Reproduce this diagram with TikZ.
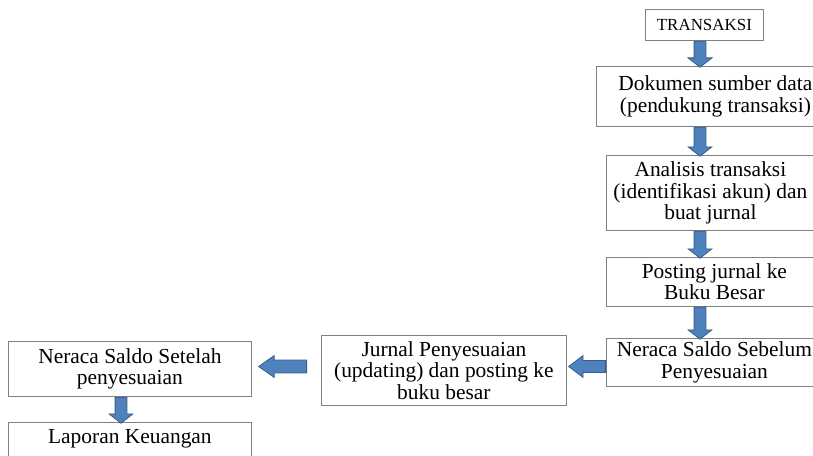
\documentclass[tikz,border=0pt]{standalone}
\usepackage{fontspec}
\setmainfont{Liberation Serif}
\usetikzlibrary{shapes.arrows}
\definecolor{arrowfill}{RGB}{79,129,189}
\definecolor{arrowline}{RGB}{56,93,138}

\begin{document}
\begin{tikzpicture}[x=1bp, y=-1bp,
  flow box/.style={rectangle, draw=black!50, line width=0.8bp, anchor=north west, align=center, inner sep=2bp, font=\fontsize{21.5}{21.5}\selectfont},
  block arrow/.style={single arrow, draw=arrowline, fill=arrowfill, line width=0.8bp, minimum width=0pt, anchor=tail},
  down arrow/.style={block arrow, shape border rotate=270, inner ysep=0pt, inner xsep=5.5bp, single arrow head extend=6bp, single arrow tip angle=104},
  left arrow/.style={block arrow, shape border rotate=180, inner xsep=0pt, inner ysep=5.5bp, single arrow head extend=5bp, single arrow tip angle=74}]
  \useasboundingbox (0,0) rectangle (813,456);

  \coordinate (colR) at (700,0);
  \coordinate (colL) at (121,0);
  \coordinate (rowH) at (0,366.5);

  % right column
  \node[flow box, minimum width=118bp, minimum height=31bp, font=\fontsize{17}{20}\selectfont] (trans) at (645,9) {TRANSAKSI};
  \node[flow box, minimum width=238bp, minimum height=60bp] (dok) at (596,66) {Dokumen sumber data\\(pendukung transaksi)};
  \node[flow box, minimum width=208bp, minimum height=75bp] (ana) at (606,155) {Analisis transaksi\\(identifikasi akun) dan\\buat jurnal};
  \node[flow box, minimum width=216bp, minimum height=49bp] (post) at (606,257) {Posting jurnal ke\\Buku Besar};
  \node[flow box, minimum width=216bp, minimum height=48bp] (seb) at (606,338) {Neraca Saldo Sebelum\\Penyesuaian};

  % bottom row
  \node[flow box, minimum width=245bp, minimum height=70bp] (jur) at (321,335) {Jurnal Penyesuaian\\(updating) dan posting ke\\buku besar};
  \node[flow box, minimum width=243bp, minimum height=55bp] (set) at (8,341) {Neraca Saldo Setelah\\penyesuaian};
  \node[flow box, minimum width=243bp, minimum height=50bp] (lap) at (8,422) {Laporan Keuangan\\ \mbox{}};

  % arrows
  \node[down arrow, minimum height=26bp] (a1) at (trans.south -| colR) {};
  \node[down arrow, minimum height=29bp] (a2) at (dok.south -| colR) {};
  \node[down arrow, minimum height=27bp] (a3) at (ana.south -| colR) {};
  \node[down arrow, minimum height=32bp] (a4) at (post.south -| colR) {};
  \node[left arrow, minimum height=37bp] (a5) at (seb.west |- rowH) {};
  \node[left arrow, minimum height=48bp, inner ysep=6bp, single arrow head extend=4.5bp, single arrow tip angle=70, xshift=-14bp] (a6) at (jur.west |- rowH) {};
  \node[down arrow, minimum height=26bp] (a7) at (set.south -| colL) {};
\end{tikzpicture}
\end{document}
